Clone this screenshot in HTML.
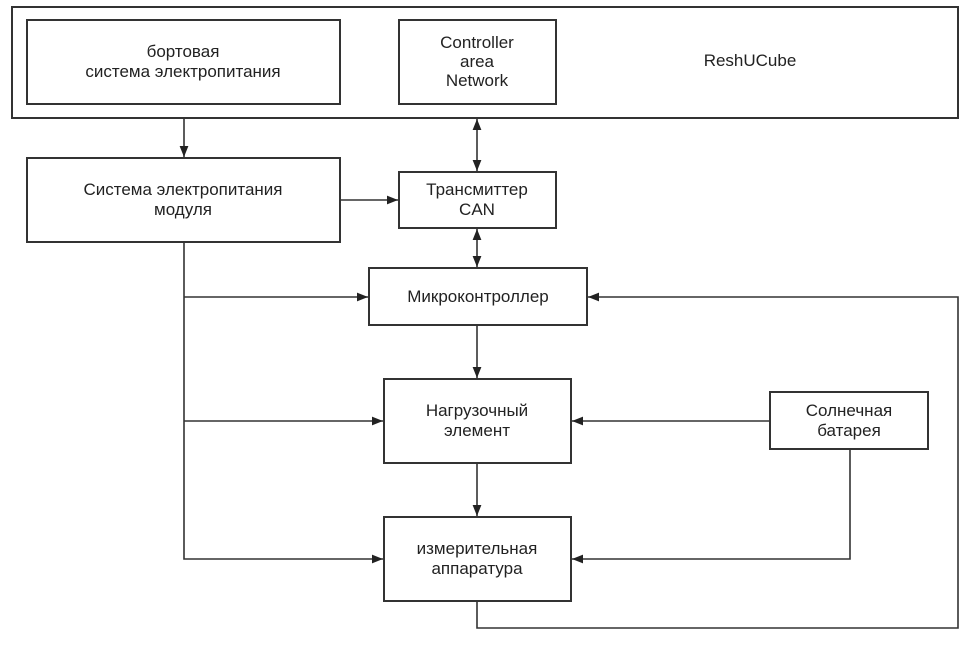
<!DOCTYPE html>
<html><head><meta charset="utf-8"><style>
body{margin:0;background:#fff;}
svg text{font-family:"Liberation Sans",sans-serif;font-size:17px;fill:#222;text-anchor:middle;}
</style></head><body>
<svg width="967" height="640" viewBox="0 0 967 640" xmlns="http://www.w3.org/2000/svg">
<defs><marker id="a" viewBox="0 0 10 10" refX="10" refY="5" markerWidth="7" markerHeight="7" orient="auto-start-reverse"><path d="M0,1 L10,5 L0,9z" fill="#222"/></marker></defs>
<g fill="none" stroke="#333" stroke-width="2">
<rect x="12" y="7" width="946" height="111"/>
<rect x="27" y="20" width="313" height="84"/>
<rect x="399" y="20" width="157" height="84"/>
<rect x="27" y="158" width="313" height="84"/>
<rect x="399" y="172" width="157" height="56"/>
<rect x="369" y="268" width="218" height="57"/>
<rect x="384" y="379" width="187" height="84"/>
<rect x="770" y="392" width="158" height="57"/>
<rect x="384" y="517" width="187" height="84"/>
</g>
<g fill="none" stroke="#333" stroke-width="1.6">
<line x1="184" y1="118" x2="184" y2="157" marker-end="url(#a)"/>
<line x1="477" y1="119" x2="477" y2="171" marker-start="url(#a)" marker-end="url(#a)"/>
<line x1="477" y1="229" x2="477" y2="267" marker-start="url(#a)" marker-end="url(#a)"/>
<line x1="340" y1="200" x2="398" y2="200" marker-end="url(#a)"/>
<polyline points="184,242 184,559 383,559" marker-end="url(#a)"/>
<line x1="184" y1="297" x2="368" y2="297" marker-end="url(#a)"/>
<line x1="184" y1="421" x2="383" y2="421" marker-end="url(#a)"/>
<line x1="477" y1="325" x2="477" y2="378" marker-end="url(#a)"/>
<line x1="477" y1="463" x2="477" y2="516" marker-end="url(#a)"/>
<line x1="770" y1="421" x2="572" y2="421" marker-end="url(#a)"/>
<polyline points="850,449 850,559 572,559" marker-end="url(#a)"/>
<polyline points="477,601 477,628 958,628 958,297 588,297" marker-end="url(#a)"/>
</g>
<text x="183" y="57">бортовая</text>
<text x="183" y="77">система электропитания</text>
<text x="477" y="48">Controller</text>
<text x="477" y="67">area</text>
<text x="477" y="86">Network</text>
<text x="750" y="66">ReshUCube</text>
<text x="183" y="195">Система электропитания</text>
<text x="183" y="215">модуля</text>
<text x="477" y="195">Трансмиттер</text>
<text x="477" y="215">CAN</text>
<text x="478" y="302">Микроконтроллер</text>
<text x="477" y="416">Нагрузочный</text>
<text x="477" y="436">элемент</text>
<text x="849" y="416">Солнечная</text>
<text x="849" y="436">батарея</text>
<text x="477" y="554">измерительная</text>
<text x="477" y="574">аппаратура</text>
</svg>
</body></html>
